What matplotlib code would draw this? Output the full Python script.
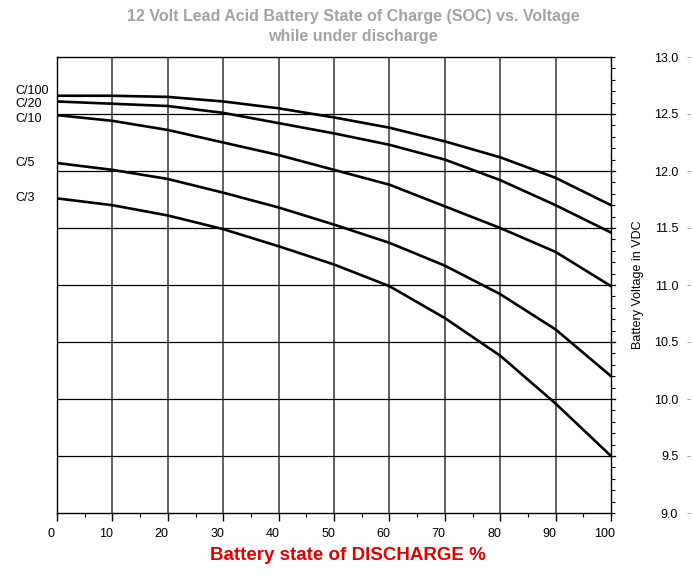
import numpy as np
import matplotlib
matplotlib.use('Agg')
import matplotlib.pyplot as plt
from matplotlib.ticker import MultipleLocator
from matplotlib.transforms import ScaledTranslation

plt.rcParams['font.family'] = ['Liberation Sans', 'DejaVu Sans']

# state of discharge, %
discharge = [0, 10, 20, 30, 40, 50, 60, 70, 80, 90, 100]

# battery voltage (V) for each discharge rate
c100 = [12.66, 12.66, 12.65, 12.61, 12.55, 12.47, 12.38, 12.26, 12.12, 11.94, 11.70]
c20 = [12.61, 12.59, 12.57, 12.51, 12.42, 12.33, 12.23, 12.10, 11.92, 11.70, 11.46]
c10 = [12.49, 12.44, 12.36, 12.25, 12.14, 12.01, 11.88, 11.69, 11.50, 11.29, 10.99]
c5 = [12.07, 12.01, 11.93, 11.81, 11.68, 11.53, 11.37, 11.17, 10.92, 10.61, 10.20]
c3 = [11.76, 11.70, 11.61, 11.49, 11.34, 11.18, 10.99, 10.71, 10.38, 9.96, 9.50]

series = {'C/100': c100, 'C/20': c20, 'C/10': c10, 'C/5': c5, 'C/3': c3}
# label offsets (points) from the start of each curve
label_dy = {'C/100': 3.6, 'C/20': -1.5, 'C/10': -2.9, 'C/5': 0, 'C/3': 0}

fig = plt.figure(figsize=(6.93, 5.77), dpi=100)
L, R, B, T = 57 / 693, 611 / 693, 64 / 577, 520 / 577
ax = fig.add_axes([L, B, R - L, T - B])

for name, v in series.items():
    ax.plot(discharge, v, color='black', lw=1.9, solid_capstyle='round')
    ax.annotate(name, xy=(0, v[0]), xytext=(-30, label_dy[name]),
                textcoords='offset points', ha='left', va='center', fontsize=9)

ax.set_xlim(0, 100)
ax.set_ylim(9, 13)

# grid
for x in range(10, 100, 10):
    ax.axvline(x, color='#555555', lw=1.3, zorder=0)
for y in np.arange(9.5, 13.0, 0.5):
    ax.axhline(y, color='black', lw=0.9, zorder=0)
    ax.plot([1.0, 1.007], [y, y], color='black', lw=0.9,
            transform=ax.get_yaxis_transform(), clip_on=False)

for s in ax.spines.values():
    s.set_linewidth(1.0)

ax.xaxis.set_major_locator(MultipleLocator(10))
ax.xaxis.set_minor_locator(MultipleLocator(5))
ax.tick_params(axis='x', which='major', direction='out', length=6, width=1, labelsize=9, pad=5)
ax.tick_params(axis='x', which='minor', direction='out', length=3, width=0.8)
for lab in ax.get_xticklabels():
    lab.set_transform(lab.get_transform() + ScaledTranslation(-0.06, 0, fig.dpi_scale_trans))

ax.yaxis.tick_right()
ax.yaxis.set_major_locator(MultipleLocator(0.5))
ax.yaxis.set_minor_locator(MultipleLocator(0.1))
ax.tick_params(axis='y', which='both', direction='out', length=3, width=0.8, labelright=False)

fig.text(348 / 693, 1 - 556 / 577, 'Battery state of DISCHARGE %', color='#e00000',
         fontsize=13.5, fontweight='bold', ha='center', va='center')

# separate scale at far right
ax2 = fig.add_axes([690 / 693, B, 0.0005, T - B])
ax2.set_ylim(9, 13)
ax2.set_xticks([])
for s in ax2.spines.values():
    s.set_visible(False)
ax2.yaxis.set_major_locator(MultipleLocator(0.5))
ax2.yaxis.set_major_formatter('{x:.1f}')
ax2.tick_params(axis='y', direction='out', length=2, width=0.6, color='#888888',
                labelsize=9, pad=6.5)
fig.text(638 / 693, (577 - 285) / 577, 'Battery Voltage in VDC', rotation=90,
         ha='center', va='center', fontsize=9)

title_color = '#a3a3a3'
fig.text(353 / 693, 1 - 16 / 577, '12 Volt Lead Acid Battery State of Charge (SOC) vs. Voltage',
         ha='center', va='center', fontsize=11.5, fontweight='bold', color=title_color)
fig.text(353 / 693, 1 - 37 / 577, 'while under discharge',
         ha='center', va='center', fontsize=11.5, fontweight='bold', color=title_color)

fig.savefig('out.png', dpi=100)
